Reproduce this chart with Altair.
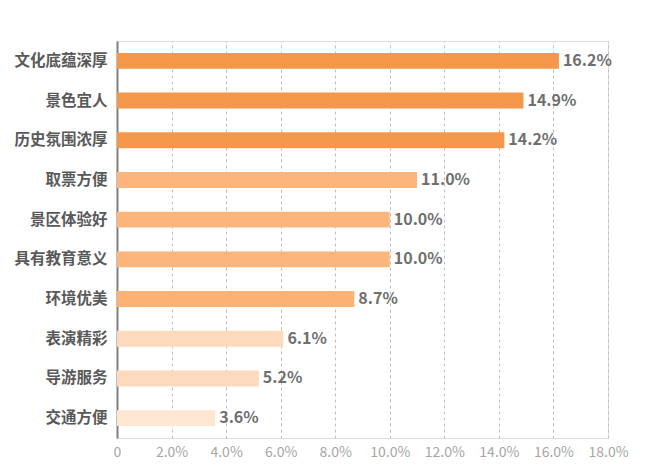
import altair as alt
import pandas as pd

categories = ["文化底蕴深厚", "景色宜人", "历史氛围浓厚", "取票方便", "景区体验好",
              "具有教育意义", "环境优美", "表演精彩", "导游服务", "交通方便"]
values = [16.2, 14.9, 14.2, 11.0, 10.0, 10.0, 8.7, 6.1, 5.2, 3.6]
colors = ["#F4974A", "#F4974A", "#F4974A", "#FCB67D", "#FCB67D",
          "#FCB67D", "#FBB273", "#FDDABD", "#FDDABD", "#FDE6D2"]
x_ticks = [0, 2, 4, 6, 8, 10, 12, 14, 16, 18]

df = pd.DataFrame({"cat": categories, "val": values, "color": colors,
                   "label": [f"{v:.1f}%" for v in values]})

FONT = "Noto Sans CJK SC"

base = alt.Chart(df).encode(
    y=alt.Y("cat:N", sort=categories, title=None,
            scale=alt.Scale(paddingInner=0.6, paddingOuter=0.3),
            axis=alt.Axis(labelFont=FONT, labelFontSize=15.5, labelFontWeight="bold",
                          labelColor="#595959", ticks=False, labelPadding=10,
                          domainColor="#808080", domainWidth=2,
                          minExtent=109, maxExtent=109, grid=False)),
    x=alt.X("val:Q", title=None,
            scale=alt.Scale(domain=[0, 18], nice=False),
            axis=alt.Axis(values=x_ticks, labelFont=FONT, labelFontSize=14,
                          labelColor="#A6A6A6", ticks=False, domain=False,
                          labelPadding=7, grid=True, gridColor="#BFBFBF",
                          gridDash=[3, 3], gridWidth=1,
                          labelOverlap=False, labelFlush=False,
                          labelExpr="datum.value == 0 ? '0' : format(datum.value, '.1f') + '%'")),
)

bars = base.mark_bar().encode(
    color=alt.Color("color:N", scale=None),
)

text = base.mark_text(align="left", baseline="middle", dx=4, font=FONT,
                      fontSize=16, fontWeight="bold", color="#6F6F6F").encode(
    text="label:N")

chart = (bars + text).properties(
    width=491, height=397,
    padding={"left": 0, "top": 33, "right": 0, "bottom": 0},
).configure_view(stroke=None).configure(background="white")

chart.save("out.html", embed_options={"renderer": "svg", "actions": False})
